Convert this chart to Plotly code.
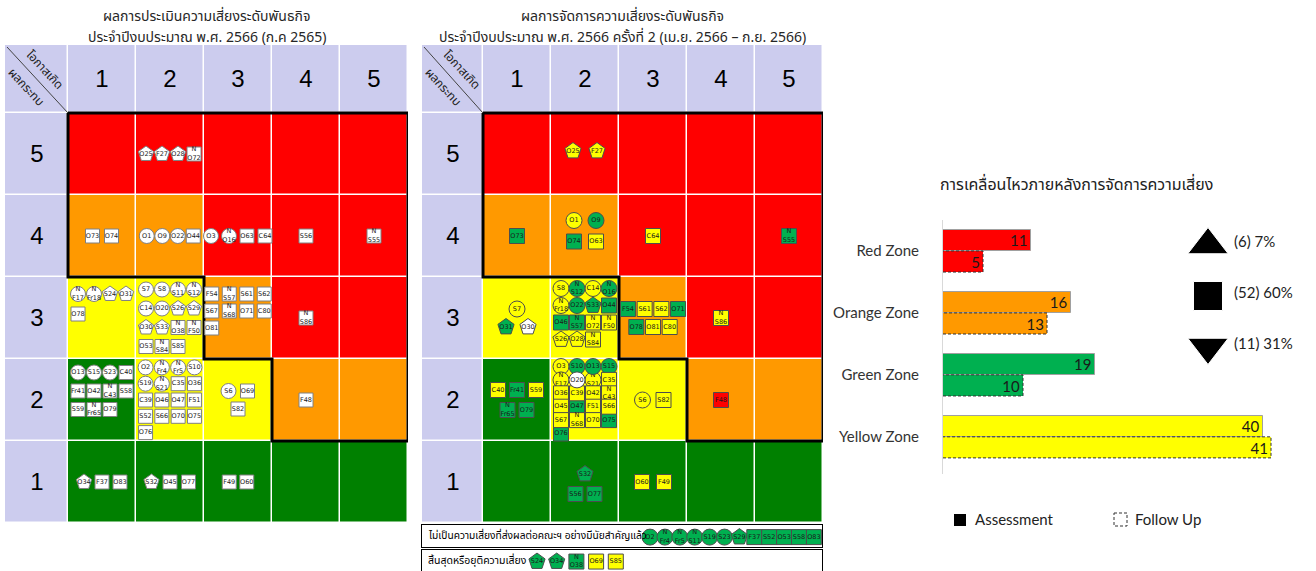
import plotly.graph_objects as go

W, H = 1316, 571

# ====================== DATA ======================
LIKELIHOOD_TICKS = ["1", "2", "3", "4", "5"]
IMPACT_TICKS = ["1", "2", "3", "4", "5"]

# zone of each cell: rows = impact 1..5 (bottom -> top), columns = likelihood 1..5
ZONE_GRID = [
    ["green", "green", "green", "green", "green"],
    ["green", "yellow", "yellow", "orange", "orange"],
    ["yellow", "yellow", "orange", "red", "red"],
    ["orange", "orange", "red", "red", "red"],
    ["red", "red", "red", "red", "red"],
]

# Assessment (ก.ค 2565): (likelihood, impact) -> [(risk code, symbol)]
ASSESSMENT = {
    (2, 5): [("O25", "p"), ("F27", "p"), ("O28", "p"), ("N O72", "s")],
    (1, 4): [("O73", "s"), ("O74", "s")],
    (2, 4): [("O1", "c"), ("O9", "c"), ("O22", "c"), ("O44", "s")],
    (3, 4): [("O3", "c"), ("N O16", "c"), ("O63", "s"), ("C64", "s")],
    (4, 4): [("S56", "s")],
    (5, 4): [("N S55", "s")],
    (1, 3): [("N F17", "c"), ("N Fr18", "c"), ("S24", "p"), ("O31", "p"), ("O78", "s")],
    (2, 3): [("S7", "c"), ("S8", "c"), ("N S11", "c"), ("N S12", "c"), ("C14", "c"), ("O20", "c"),
             ("S26", "p"), ("S29", "p"), ("O30", "p"), ("S33", "p"), ("N O38", "s"), ("N F50", "s"),
             ("O53", "s"), ("N S84", "s"), ("S85", "s")],
    (3, 3): [("F54", "s"), ("N S57", "s"), ("S61", "s"), ("S62", "s"), ("S67", "s"), ("N S68", "s"),
             ("O71", "s"), ("C80", "s"), ("O81", "s")],
    (4, 3): [("N S86", "s")],
    (1, 2): [("O13", "c"), ("S15", "c"), ("S23", "c"), ("C40", "s"), ("Fr41", "s"), ("O42", "s"),
             ("N C43", "s"), ("S58", "s"), ("S59", "s"), ("N Fr65", "s"), ("O79", "s")],
    (2, 2): [("O2", "c"), ("N Fr4", "c"), ("N Fr5", "c"), ("S10", "c"), ("S19", "c"), ("N S21", "c"),
             ("C35", "s"), ("O36", "s"), ("C39", "s"), ("O46", "s"), ("O47", "s"), ("F51", "s"),
             ("S52", "s"), ("S66", "s"), ("O70", "s"), ("O75", "s"), ("O76", "s")],
    (3, 2): [("S6", "c"), ("O69", "s"), ("S82", "s")],
    (4, 2): [("F48", "s")],
    (1, 1): [("O34", "p"), ("F37", "s"), ("O83", "s")],
    (2, 1): [("S32", "p"), ("O45", "s"), ("O77", "s")],
    (3, 1): [("F49", "s"), ("O60", "s")],
}

# Follow-up ครั้งที่ 2: (likelihood, impact) -> [(risk code, symbol, status)]
FOLLOW_UP = {
    (2, 5): [("O25", "p", "y"), ("F27", "p", "y")],
    (1, 4): [("O73", "s", "g")],
    (2, 4): [("O1", "c", "y"), ("O9", "c", "g"), ("O74", "s", "g"), ("O63", "s", "y")],
    (3, 4): [("C64", "s", "y")],
    (5, 4): [("N S55", "s", "g")],
    (1, 3): [("S7", "c", "y"), ("O31", "p", "g"), ("O30", "p", "w")],
    (2, 3): [("S8", "c", "y"), ("N S12", "c", "g"), ("C14", "c", "y"), ("N O16", "c", "g"),
             ("N Fr18", "c", "y"), ("O22", "c", "g"), ("S33", "p", "g"), ("O44", "s", "g"),
             ("O46", "s", "g"), ("N S57", "s", "g"), ("N O72", "s", "y"), ("N F50", "s", "y"),
             ("S26", "p", "y"), ("O28", "p", "y"), ("N S84", "s", "y")],
    (3, 3): [("F54", "s", "g"), ("S61", "s", "y"), ("S62", "s", "y"), ("O71", "s", "g"),
             ("O78", "s", "g"), ("O81", "s", "y"), ("C80", "s", "y")],
    (4, 3): [("N S86", "s", "y")],
    (1, 2): [("C40", "s", "y"), ("Fr41", "s", "g"), ("S59", "s", "y"), ("N Fr65", "s", "g"), ("O79", "s", "g")],
    (2, 2): [("O3", "c", "y"), ("S10", "c", "g"), ("O13", "c", "g"), ("S15", "c", "g"),
             ("N F17", "c", "y"), ("O20", "c", "w"), ("N S21", "c", "y"), ("C35", "s", "y"),
             ("O36", "s", "y"), ("C39", "s", "y"), ("O42", "s", "y"), ("N C43", "s", "y"),
             ("O45", "s", "y"), ("O47", "s", "g"), ("F51", "s", "y"), ("S66", "s", "y"),
             ("S67", "s", "y"), ("N S68", "s", "y"), ("O70", "s", "y"), ("O75", "s", "g"),
             ("O76", "s", "g")],
    (3, 2): [("S6", "c", "y"), ("S82", "s", "y")],
    (4, 2): [("F48", "s", "r")],
    (2, 1): [("S32", "p", "g"), ("S56", "s", "g"), ("O77", "s", "g")],
    (3, 1): [("O60", "s", "y"), ("F49", "s", "y")],
}

NOT_SIGNIFICANT_LABEL = "ไม่เป็นความเสี่ยงที่ส่งผลต่อคณะฯ อย่างมีนัยสำคัญแล้ว"
NOT_SIGNIFICANT = [("O2", "c", "g"), ("N Fr4", "c", "g"), ("N Fr5", "c", "g"), ("N S11", "c", "g"),
                   ("S19", "c", "g"), ("S23", "c", "g"), ("S29", "p", "g"), ("F37", "s", "g"),
                   ("S52", "s", "g"), ("O53", "s", "g"), ("S58", "s", "g"), ("O83", "s", "g")]
ENDED_LABEL = "สิ้นสุดหรือยุติความเสี่ยง"
ENDED = [("S24", "p", "g"), ("O34", "p", "g"), ("N O38", "s", "g"), ("O69", "s", "y"), ("S85", "s", "y")]

TITLE_A = ["ผลการประเมินความเสี่ยงระดับพันธกิจ", "ประจำปีงบประมาณ พ.ศ. 2566 (ก.ค 2565)"]
TITLE_B = ["ผลการจัดการความเสี่ยงระดับพันธกิจ", "ประจำปีงบประมาณ พ.ศ. 2566 ครั้งที่ 2 (เม.ย. 2566 – ก.ย. 2566)"]
CORNER_TOP = "โอกาสเกิด"
CORNER_BOTTOM = "ผลกระทบ"

BAR_TITLE = "การเคลื่อนไหวภายหลังการจัดการความเสี่ยง"
ZONE_NAMES = ["Red Zone", "Orange Zone", "Green Zone", "Yellow Zone"]
ZONE_KEYS = ["red", "orange", "green", "yellow"]
ASSESSMENT_COUNTS = [11, 16, 19, 40]
FOLLOW_UP_COUNTS = [5, 13, 10, 41]
MOVEMENT_SYMBOLS = ["triangle-up", "square", "triangle-down"]
MOVEMENT_COUNTS = [6, 52, 11]
MOVEMENT_PCT = [7, 60, 31]
LEGEND_NAMES = ["Assessment", "Follow Up"]

# ====================== STYLE ======================
ZONE_COLORS = {"green": "#008000", "yellow": "#FFFF00", "orange": "#FF9900", "red": "#FF0000"}
BAR_COLORS = {"green": "#00B050", "yellow": "#FFFF00", "orange": "#FF9900", "red": "#FF0000"}
HEADER_COLOR = "#CCCCEE"
STATUS_COLORS = {"y": "#FFFF00", "g": "#00B050", "w": "#FFFFFF", "r": "#FF0000"}
SYMBOLS = {"c": "circle", "p": "pentagon", "s": "square"}
THAI_FONT = "Noto Sans Thai, Loma, Garuda, Tlwg Typist, Noto Sans, DejaVu Sans, sans-serif"
LATIN_FONT = "Lato, Noto Sans, sans-serif"
TAG_FONT = dict(family="DejaVu Sans", size=6.5, color="#1a1a1a")

# cell arrangements (rows of item counts, alignment, spacings in px, vertical shift px)
LAYOUT_A = {
    (2, 5): dict(rows=[4], hs=16), (1, 4): dict(rows=[2], hs=19), (2, 4): dict(rows=[4], hs=15.5),
    (3, 4): dict(rows=[4], hs=18), (1, 3): dict(rows=[4, 1], hs=16, vs=20, dy=14),
    (2, 3): dict(rows=[4, 4, 4, 3], hs=16, vs=19), (3, 3): dict(rows=[4, 4, 1], hs=17.5, vs=17, dy=7),
    (1, 2): dict(rows=[4, 4, 3], hs=16, vs=18.5, dy=9), (2, 2): dict(rows=[4, 4, 4, 4, 1], hs=16.3, vs=16.3),
    (3, 2): dict(rows=[2, 1], align="center", hs=19, vs=18), (1, 1): dict(rows=[3], hs=18),
    (2, 1): dict(rows=[3], hs=18.5), (3, 1): dict(rows=[2], hs=17.5),
}
LAYOUT_B = {
    (2, 5): dict(rows=[2], hs=24, dy=3), (2, 4): dict(rows=[2, 2], hs=22, vs=21, dy=5),
    (1, 3): dict(rows=[1, 2], align="center", hs=22, vs=18),
    (2, 3): dict(rows=[4, 4, 4, 3], hs=16, vs=17, dy=4),
    (3, 3): dict(rows=[4, 3], align="center", hs=16.7, vs=18),
    (1, 2): dict(rows=[3, 2], align="center", hs=19, vs=20),
    (2, 2): dict(rows=[4, 4, 4, 4, 4, 1], hs=16, vs=13.4),
    (3, 2): dict(rows=[2], hs=21), (2, 1): dict(rows=[1, 2], align="center", hs=19, vs=20, dy=-2),
    (3, 1): dict(rows=[2], hs=22),
}

TOP, HEADER_H, COL_W, ROW_H = 45, 68, 68, 82


def px(x):
    return x / W


def py(y):
    return 1 - y / H


def axname(kind, i):
    return kind if i == 1 else f"{kind}{i}"


def offsets(n, spec):
    rows = spec.get("rows", [n])
    hs, vs = spec.get("hs", 18), spec.get("vs", 18)
    align, dy0 = spec.get("align", "left"), spec.get("dy", 0)
    maxc, nr = max(rows), len(rows)
    out = []
    for ri, cnt in enumerate(rows):
        dy = ((nr - 1) / 2 - ri) * vs + dy0
        start = -(cnt - 1) / 2 * hs if align == "center" else -(maxc - 1) / 2 * hs
        for ci in range(cnt):
            out.append((start + ci * hs, dy))
    return out[:n]


fig = go.Figure()


def add_tags(xs, ys, tags, xa, ya, sizes, line_color):
    groups = {}
    for x, y, (lab, shp, st) in zip(xs, ys, tags):
        groups.setdefault((shp, st), []).append((x, y, lab.replace(" ", "<br>")))
    for (shp, st), pts in groups.items():
        fig.add_trace(go.Scatter(
            x=[p[0] for p in pts], y=[p[1] for p in pts], text=[p[2] for p in pts],
            mode="markers+text", textposition="middle center", textfont=TAG_FONT,
            marker=dict(symbol=SYMBOLS[shp], size=sizes[shp], color=STATUS_COLORS[st], opacity=1,
                        line=dict(color=line_color, width=1)),
            xaxis=xa, yaxis=ya, showlegend=False, hoverinfo="text", cliponaxis=False))


def matrix(ax_id, left, label_w, items, layout, sizes, line_color, titles):
    xa, ya = axname("x", ax_id), axname("y", ax_id)
    code = {"green": 1, "yellow": 2, "orange": 3, "red": 4}
    xe = [0.5 - label_w / COL_W] + [i + 0.5 for i in range(6)]
    ye = [i + 0.5 for i in range(6)] + [5.5 + HEADER_H / ROW_H]
    z, txt = [], []
    for r in range(5):
        z.append([0] + [code[c] for c in ZONE_GRID[r]])
        txt.append([IMPACT_TICKS[r]] + [""] * 5)
    z.append([0] * 6)
    txt.append([""] + LIKELIHOOD_TICKS)
    lav = HEADER_COLOR
    cs = [[0, lav], [0.125, lav], [0.125, ZONE_COLORS["green"]], [0.375, ZONE_COLORS["green"]],
          [0.375, ZONE_COLORS["yellow"]], [0.625, ZONE_COLORS["yellow"]],
          [0.625, ZONE_COLORS["orange"]], [0.875, ZONE_COLORS["orange"]],
          [0.875, ZONE_COLORS["red"]], [1, ZONE_COLORS["red"]]]
    fig.add_trace(go.Heatmap(x=xe, y=ye, z=z, text=txt, texttemplate="%{text}",
                             textfont=dict(family="Liberation Sans, Arial", size=24, color="#000"),
                             colorscale=cs, zmin=0, zmax=4, showscale=False, xgap=1.5, ygap=1.5,
                             hoverinfo="skip", xaxis=xa, yaxis=ya))
    # high-risk outline derived from the zone grid
    high = {"red", "orange"}
    b = []
    for c in range(5):
        rr = min(r for r in range(5) if ZONE_GRID[r][c] in high)
        b.append(rr + 0.5)
    bx, by = [0.5, 5.5], [5.5, 5.5]
    for c in range(4, -1, -1):
        bx += [c + 1.5, c + 0.5]
        by += [b[c], b[c]]
    bx.append(0.5)
    by.append(5.5)
    fig.add_trace(go.Scatter(x=bx, y=by, mode="lines", line=dict(color="#000", width=3),
                             xaxis=xa, yaxis=ya, showlegend=False, hoverinfo="skip", cliponaxis=False))
    xs, ys, tags = [], [], []
    for (lk, im), lst in items.items():
        spec = layout.get((lk, im), {})
        for (dx, dy), it in zip(offsets(len(lst), spec), lst):
            xs.append(lk + dx / COL_W)
            ys.append(im + dy / ROW_H)
            tags.append(it if len(it) == 3 else (it[0], it[1], "w"))
    add_tags(xs, ys, tags, xa, ya, sizes, line_color)
    right = left + label_w + 5 * COL_W
    bottom = TOP + HEADER_H + 5 * ROW_H
    fig.update_layout(**{
        axname("xaxis", ax_id): dict(domain=[px(left), px(right)], range=[xe[0], xe[-1]], visible=False,
                                     fixedrange=True, anchor=ya, automargin=False),
        axname("yaxis", ax_id): dict(domain=[py(bottom), py(TOP)], range=[ye[0], ye[-1]], visible=False,
                                     fixedrange=True, anchor=xa, automargin=False)})
    fig.add_shape(type="line", xref="paper", yref="paper", x0=px(left + 2), y0=py(TOP + 2),
                  x1=px(left + label_w), y1=py(TOP + HEADER_H), line=dict(color="#444", width=1))
    for txt_c, (ox, oy) in [(CORNER_TOP, (40, 25)), (CORNER_BOTTOM, (21, 42))]:
        fig.add_annotation(x=px(left + ox), y=py(TOP + oy), xref="paper", yref="paper", text=txt_c,
                           xanchor="center", yanchor="middle", textangle=47, showarrow=False,
                           font=dict(family=THAI_FONT, size=12, color="#222"))
    cx = (left + right) / 2
    for i, t in enumerate(titles):
        fig.add_annotation(x=px(cx), y=py(17 + 20 * i), xref="paper", yref="paper", text=t,
                           xanchor="center", yanchor="middle", showarrow=False,
                           font=dict(family=THAI_FONT, size=14, color="#262626"))


matrix(1, 5, 63, ASSESSMENT, LAYOUT_A, {"c": 15, "p": 16, "s": 14}, "#808080", TITLE_A)
matrix(2, 422, 61, FOLLOW_UP, LAYOUT_B, {"c": 16, "p": 17, "s": 15}, "#4d4d4d", TITLE_B)

# ---------- bottom boxes ----------
BOXES = [
    (3, 525, 547, NOT_SIGNIFICANT_LABEL, NOT_SIGNIFICANT, 228, 14.9, 10.2),
    (4, 550, 572, ENDED_LABEL, ENDED, 115, 19.7, 10.5),
]
for ax_id, top, bot, label, lst, start, step, fs in BOXES:
    xa, ya = f"x{ax_id}", f"y{ax_id}"
    fig.update_layout(**{
        f"xaxis{ax_id}": dict(domain=[px(422), px(822)], range=[0, 400], showline=True, mirror=True,
                              linecolor="#000", linewidth=1, showticklabels=False, ticks="",
                              showgrid=False, zeroline=False, fixedrange=True, anchor=ya),
        f"yaxis{ax_id}": dict(domain=[max(0, py(bot)), py(top)], range=[0, 1], showline=True, mirror=True,
                              linecolor="#000", linewidth=1, showticklabels=False, ticks="",
                              showgrid=False, zeroline=False, fixedrange=True, anchor=xa)})
    fig.add_annotation(x=4, y=0.5, xref=xa, yref=ya, text=label, xanchor="left", showarrow=False,
                       font=dict(family=THAI_FONT, size=fs, color="#000"))
    add_tags([start + i * step for i in range(len(lst))], [0.45] * len(lst), lst, xa, ya,
             {"c": 16, "p": 17, "s": 15}, "#4d4d4d")

# ---------- bar chart ----------
ypos = [3, 2, 1, 0]
HALF = 0.17
for vals, off, line in [(ASSESSMENT_COUNTS, HALF, dict(color="#a0a0a0", width=1)),
                        (FOLLOW_UP_COUNTS, -HALF, dict(width=0))]:
    fig.add_trace(go.Bar(
        orientation="h", x=vals, y=[p + off for p in ypos], width=2 * HALF,
        marker=dict(color=[BAR_COLORS[k] for k in ZONE_KEYS], line=line),
        text=[str(v) for v in vals], textposition="inside", insidetextanchor="end", textangle=0,
        textfont=dict(family=LATIN_FONT, size=15, color="#1a1a1a"), constraintext="none",
        xaxis="x5", yaxis="y5", showlegend=False, hoverinfo="x"))
dx, dy = [], []
for p, v in zip(ypos, FOLLOW_UP_COUNTS):
    lo, hi = p - 2 * HALF, p
    dx += [0, v, v, 0, None]
    dy += [lo, lo, hi, hi, None]
fig.add_trace(go.Scatter(x=dx, y=dy, mode="lines", line=dict(color="#333", width=1, dash="3px,2px"),
                         xaxis="x5", yaxis="y5", showlegend=False, hoverinfo="skip", cliponaxis=False))
fig.update_layout(
    xaxis5=dict(domain=[px(943), px(1303)], range=[0, 45], visible=False, fixedrange=True, anchor="y5"),
    yaxis5=dict(domain=[py(474), py(220)], range=[-0.6, 3.5], tickvals=ypos, ticktext=ZONE_NAMES,
                showline=True, linecolor="#d9d9d9", linewidth=1, ticks="", showgrid=False,
                zeroline=False, ticklabelstandoff=20, fixedrange=True, anchor="x5", automargin=False,
                tickfont=dict(family=LATIN_FONT, size=15, color="#333")))
fig.add_annotation(x=px(938), y=py(185), xref="paper", yref="paper", text=BAR_TITLE, xanchor="left",
                   yanchor="middle", showarrow=False, font=dict(family=THAI_FONT, size=16, color="#222"))

# ---------- legends (pixel overlay axis) ----------
fig.update_layout(
    xaxis6=dict(domain=[0, 1], range=[0, W], visible=False, fixedrange=True, anchor="y6"),
    yaxis6=dict(domain=[0, 1], range=[H, 0], visible=False, fixedrange=True, anchor="x6"))
my = [245 + 51 * i for i in range(3)]
fig.add_trace(go.Scatter(x=[1208] * 3, y=my, mode="markers",
                         marker=dict(symbol=MOVEMENT_SYMBOLS, size=[35, 29, 35], color="#000", opacity=1),
                         xaxis="x6", yaxis="y6", showlegend=False, hoverinfo="skip"))
for yy, c, p in zip(my, MOVEMENT_COUNTS, MOVEMENT_PCT):
    fig.add_annotation(x=1232, y=yy - 4, xref="x6", yref="y6", text=f"({c}) {p}%", xanchor="left",
                       showarrow=False, font=dict(family=LATIN_FONT, size=15, color="#222"))
fig.add_trace(go.Scatter(x=[960], y=[520], mode="markers", marker=dict(symbol="square", size=12, color="#000"),
                         xaxis="x6", yaxis="y6", showlegend=False, hoverinfo="skip"))
fig.add_trace(go.Scatter(x=[1114, 1127, 1127, 1114, 1114], y=[513, 513, 526, 526, 513], mode="lines",
                         line=dict(color="#333", width=1, dash="3px,2px"),
                         xaxis="x6", yaxis="y6", showlegend=False, hoverinfo="skip"))
for xx, name in zip([973, 1133], LEGEND_NAMES):
    fig.add_annotation(x=xx, y=519, xref="x6", yref="y6", text=name, xanchor="left", showarrow=False,
                       font=dict(family=LATIN_FONT, size=15, color="#222"))

fig.update_layout(width=W, height=H, margin=dict(l=0, r=0, t=0, b=0, autoexpand=False),
                  paper_bgcolor="#FFFFFF", plot_bgcolor="rgba(0,0,0,0)", showlegend=False,
                  bargap=0, barmode="overlay")
fig.write_html("out.html", config={"displayModeBar": False, "responsive": False})
